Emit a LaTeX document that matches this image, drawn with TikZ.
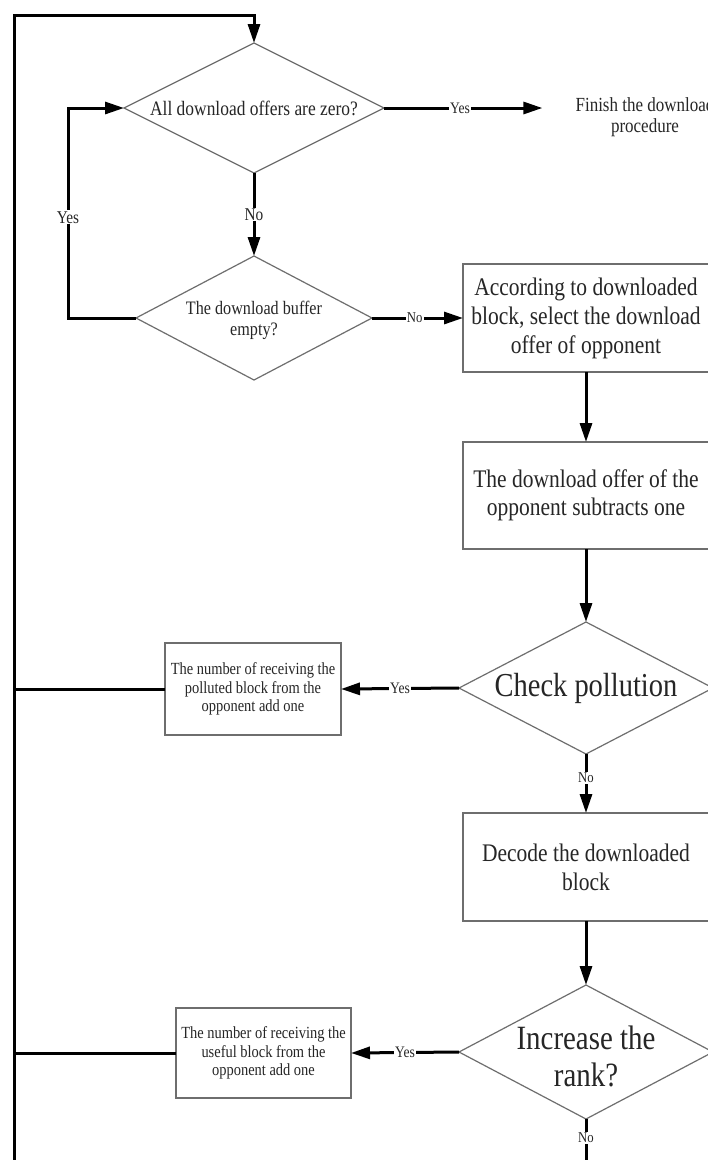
\documentclass[tikz,border=0pt]{standalone}
\usepackage{fontspec}
\setmainfont{Liberation Serif}[FakeStretch=0.85]
\usetikzlibrary{shapes.geometric,arrows.meta,calc}
\definecolor{edgegray}{HTML}{6E6E6E}
\definecolor{ink}{HTML}{262626}
\newcommand{\fsz}[2]{\fontsize{#1}{#2}\selectfont}
\tikzset{
  flow/.style={line width=3pt, draw=black},
  arr/.style={flow, -{Triangle[length=19pt,width=12pt]}},
  dia/.style={diamond, draw=edgegray, line width=1.2pt, inner sep=0pt, outer sep=0pt},
  box/.style={rectangle, draw=edgegray, line width=1.2pt, align=center, text=ink,
              inner sep=0pt, outer sep=0pt},
  txt/.style={align=center, text=ink, inner sep=0pt},
  lbl/.style={fill=white, text=ink, inner sep=1pt, font=\fsz{16}{18}},
  lblbig/.style={lbl, font=\fsz{18}{20}},
  lblsmall/.style={lbl, font=\fsz{15}{17}}
}
\begin{document}
\begin{tikzpicture}[x=1pt,y=-1pt]
\useasboundingbox (0,0) rectangle (708,1160);
\clip (0,0) rectangle (708,1160);
\fill[white] (0,0) rectangle (708,1160);

% decisions and steps
\node[dia, minimum width=260pt, minimum height=130pt] (d1) at (254,108) {};
\node[txt, font=\fsz{20.5}{24}] (d1t) at (254,108) {All download offers are zero?};
\node[txt, font=\fsz{20}{21}] (fin) at (645,117) {Finish the download\\procedure};

\node[dia, minimum width=236pt, minimum height=124pt] (d2) at (254,318) {};
\node[txt, font=\fsz{19}{21}] (d2t) at (254,320) {The download buffer\\empty?};

\node[box, minimum width=246pt, minimum height=108pt, font=\fsz{25.3}{29}] (b1) at (586,318)
  {According to downloaded\\block, select the download\\offer of opponent};
\node[box, minimum width=246pt, minimum height=107pt, font=\fsz{25.3}{28}] (b2) at (586,495.5)
  {The download offer of the\\opponent subtracts one};

\node[dia, minimum width=254pt, minimum height=132pt] (d3) at (586,688) {};
\node[txt, font=\fsz{33.5}{37}] (d3t) at (586,688) {Check pollution};
\node[box, minimum width=176pt, minimum height=92pt, font=\fsz{17}{18.3}] (p1) at (253,689)
  {The number of receiving the\\polluted block from the\\opponent add one};

\node[box, minimum width=246pt, minimum height=108pt, font=\fsz{25.3}{29}] (b3) at (586,867)
  {Decode the downloaded\\block};

\node[dia, minimum width=254pt, minimum height=134pt] (d4) at (586,1052) {};
\node[txt, font=\fsz{34}{37}] (d4t) at (586,1056) {Increase the\\rank?};
\node[box, minimum width=175pt, minimum height=90pt, font=\fsz{17}{18.3}] (u1) at (263.5,1053)
  {The number of receiving the\\useful block from the\\opponent add one};

% loose ends running off the page
\coordinate (lb) at (14,1170);
\coordinate (nb) at (586,1170);

% connectors
\draw[arr] (lb) |- ($(d1.north)+(0,-28)$) -- (d1.north);
\draw[arr] (d1.east) -- node[lbl, pos=0.48] {Yes} ($(d1.east -| fin.west)+(-33,0)$);
\draw[arr] (d1.south) -- node[lblbig] {No} (d2.north);
\draw[arr] (d2.west) -- ++(-68,0) |- node[lblbig, pos=0.24] {Yes} (d1.west);
\draw[arr] (d2.east) -- node[lblsmall, pos=0.47] {No} (b1.west);
\draw[arr] (b1.south) -- (b2.north);
\draw[arr] (b2.south) -- (d3.north);
\draw[arr] (d3.west) -- node[lbl] {Yes} (p1.east);
\draw[flow] (p1.west) -- (p1.west -| lb);
\draw[arr] (d3.south) -- node[lblsmall, pos=0.4] {No} (b3.north);
\draw[arr] (b3.south) -- (d4.north);
\draw[arr] (d4.west) -- node[lbl] {Yes} (u1.east);
\draw[flow] (u1.west) -- (u1.west -| lb);
\draw[flow] (d4.south) -- node[lblsmall, pos=0.37] {No} (nb);
\end{tikzpicture}
\end{document}
